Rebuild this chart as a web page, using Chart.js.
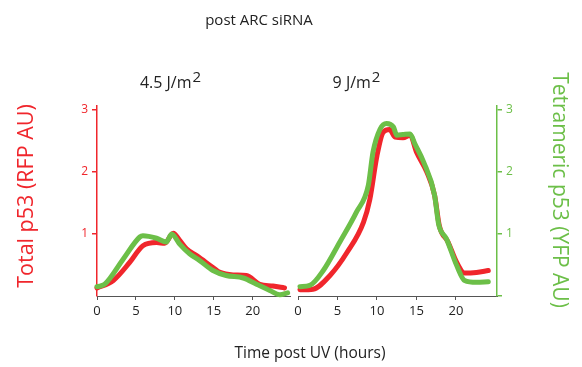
<!DOCTYPE html>
<html>
<head>
<meta charset="utf-8">
<script src="https://cdn.jsdelivr.net/npm/chart.js@4/dist/chart.umd.min.js"></script>
<style>
  html, body { margin: 0; padding: 0; background: #ffffff; }
  #wrap { position: relative; width: 582px; height: 367px; }
  canvas { position: absolute; left: 0; top: 0; }
</style>
</head>
<body>
<div id="wrap">
  <canvas id="left" width="582" height="367"></canvas>
  <canvas id="right" width="582" height="367"></canvas>
</div>
<script>
// ---------- data ----------
const mainTitle = "post ARC siRNA";
const panelTitles = ["4.5 J/m", "9 J/m"];
const panelSup = "2";
const xTitle = "Time post UV (hours)";
const leftYTitle = "Total p53 (RFP AU)";
const rightYTitle = "Tetrameric p53 (YFP AU)";
const xTicks = [0, 5, 10, 15, 20];
const yTicks = [1, 2, 3];

// 4.5 J/m2 panel
const lowRedHours = [0, 2.1, 4.2, 5.9, 7.65, 8.7, 9.8, 10.6, 11.5, 12.8, 14.9, 15.8, 17.5, 19.2, 20.9, 22.6, 24.1];
const lowRedTotal = [0.13, 0.25, 0.54, 0.81, 0.86, 0.85, 1.01, 0.9, 0.76, 0.65, 0.46, 0.38, 0.34, 0.33, 0.19, 0.16, 0.13];
const lowGreenHours = [0, 1.0, 3.4, 5.5, 5.9, 7.65, 8.9, 9.6, 10.6, 11.9, 13.2, 14.9, 16.6, 18.8, 20.5, 22.2, 23.5, 24.5];
const lowGreenTetra = [0.15, 0.19, 0.6, 0.95, 0.97, 0.93, 0.87, 1.0, 0.84, 0.68, 0.57, 0.41, 0.33, 0.29, 0.19, 0.09, 0.02, 0.05];

// 9 J/m2 panel
const highRedHours = [0.25, 1.9, 4.05, 6.2, 8.3, 9.1, 10.0, 10.8, 11.6, 12.3, 13.3, 14.2, 15.0, 16.3, 17.3, 17.9, 19.0, 20.1, 21.1, 22.6, 24.1];
const highRedTotal = [0.10, 0.11, 0.33, 0.70, 1.19, 1.56, 2.26, 2.64, 2.68, 2.56, 2.55, 2.59, 2.32, 2.0, 1.62, 1.13, 0.87, 0.54, 0.37, 0.38, 0.41];
const highGreenHours = [0.25, 1.5, 3.2, 5.3, 7.4, 8.9, 9.5, 10.4, 11.2, 12.1, 12.5, 13.3, 14.2, 14.8, 15.9, 17.3, 17.8, 18.8, 20.1, 21.1, 22.6, 24.1];
const highGreenTetra = [0.15, 0.17, 0.41, 0.87, 1.35, 1.78, 2.32, 2.69, 2.78, 2.72, 2.59, 2.6, 2.61, 2.45, 2.16, 1.62, 1.16, 0.92, 0.49, 0.25, 0.22, 0.23];

// ---------- style ----------
const RED = "#f0262c";
const GREEN = "#6cbf48";
const FONT = "'Open Sans', 'Noto Sans', sans-serif";

const zip = (xs, ys) => xs.map((x, i) => ({ x: x, y: ys[i] }));

function lineDs(label, xs, ys, color, order) {
  return {
    label: label,
    data: zip(xs, ys),
    borderColor: color,
    backgroundColor: color,
    borderWidth: 5,
    pointRadius: 0,
    tension: 0.4,
    cubicInterpolationMode: 'monotone',
    borderCapStyle: 'round',
    borderJoinStyle: 'round',
    clip: false,
    order: order
  };
}

function xScale(max) {
  return {
    type: 'linear',
    min: 0,
    max: max,
    afterBuildTicks: s => { s.ticks = xTicks.map(v => ({ value: v })); },
    afterFit: s => { s.height = 71; },
    border: { display: true, color: '#555555', width: 1 },
    grid: { drawOnChartArea: false, drawTicks: true, tickLength: 4, color: '#555555' },
    ticks: { color: '#222222', font: { family: FONT, size: 13 }, padding: 3, maxRotation: 0 }
  };
}

const textPlugin = {
  id: 'texts',
  afterDraw(chart) {
    const c = chart.ctx;
    c.save();
    c.fillStyle = '#222222';
    c.textBaseline = 'alphabetic';
    c.textAlign = 'center';
    c.font = "15px " + FONT;
    c.fillText(mainTitle, 259, 25);

    // panel titles with superscript
    const centers = [170, 356];
    panelTitles.forEach((t, i) => {
      c.font = "16px " + FONT;
      const w1 = c.measureText(t).width;
      c.font = "15px " + FONT;
      const w2 = c.measureText(panelSup).width;
      const x0 = centers[i] - (w1 + w2) / 2;
      c.textAlign = 'left';
      c.font = "16px " + FONT;
      c.fillText(t, x0, 88);
      c.font = "15px " + FONT;
      c.fillText(panelSup, x0 + w1 + 1, 82);
    });

    c.textAlign = 'center';
    c.font = "15.5px " + FONT;
    c.fillText(xTitle, 310, 358);

    // left y title
    c.save();
    c.fillStyle = RED;
    c.font = "21.5px " + FONT;
    c.translate(27, 196);
    c.rotate(-Math.PI / 2);
    c.textBaseline = 'middle';
    c.fillText(leftYTitle, 0, 0);
    c.restore();

    // right y title
    c.save();
    c.fillStyle = GREEN;
    c.font = "21px " + FONT;
    c.translate(559, 190);
    c.rotate(Math.PI / 2);
    c.textBaseline = 'middle';
    c.fillText(rightYTitle, 0, 0);
    c.restore();

    c.restore();
  }
};

const common = {
  responsive: false,
  animation: false,
  events: [],
  plugins: { legend: { display: false }, tooltip: { enabled: false }, title: { display: false } }
};

new Chart(document.getElementById('left'), {
  type: 'line',
  data: {
    datasets: [
      lineDs('Total p53 (RFP)', lowRedHours, lowRedTotal, RED, 1),
      lineDs('Tetrameric p53 (YFP)', lowGreenHours, lowGreenTetra, GREEN, 0)
    ]
  },
  options: Object.assign({}, common, {
    layout: { padding: { left: 0, right: 292, top: 106, bottom: 0 } },
    scales: {
      x: xScale(24.8),
      y: {
        type: 'linear',
        position: 'left',
        min: 0,
        max: 3.06,
        afterBuildTicks: s => { s.ticks = yTicks.map(v => ({ value: v })); },
        afterFit: s => { s.width = 97; },
        border: { display: true, color: RED, width: 1.5 },
        grid: { drawOnChartArea: false, drawTicks: true, tickLength: 5, color: RED, lineWidth: 1.5 },
        ticks: { color: RED, font: { family: FONT, size: 12 }, padding: 4 }
      }
    }
  }),
  plugins: [textPlugin]
});

new Chart(document.getElementById('right'), {
  type: 'line',
  data: {
    datasets: [
      lineDs('Total p53 (RFP)', highRedHours, highRedTotal, RED, 1),
      lineDs('Tetrameric p53 (YFP)', highGreenHours, highGreenTetra, GREEN, 0)
    ]
  },
  options: Object.assign({}, common, {
    layout: { padding: { left: 298, right: 0, top: 106, bottom: 0 } },
    scales: {
      x: xScale(25.2),
      y: {
        type: 'linear',
        position: 'right',
        min: 0,
        max: 3.06,
        afterBuildTicks: s => { s.ticks = [0].concat(yTicks).map(v => ({ value: v })); },
        afterFit: s => { s.width = 85; },
        border: { display: true, color: GREEN, width: 1.5 },
        grid: { drawOnChartArea: false, drawTicks: true, tickLength: 5, color: GREEN, lineWidth: 1.5 },
        ticks: { color: GREEN, font: { family: FONT, size: 12 }, padding: 4,
                 callback: v => (v === 0 ? '' : String(v)) }
      }
    }
  })
});
</script>
</body>
</html>
